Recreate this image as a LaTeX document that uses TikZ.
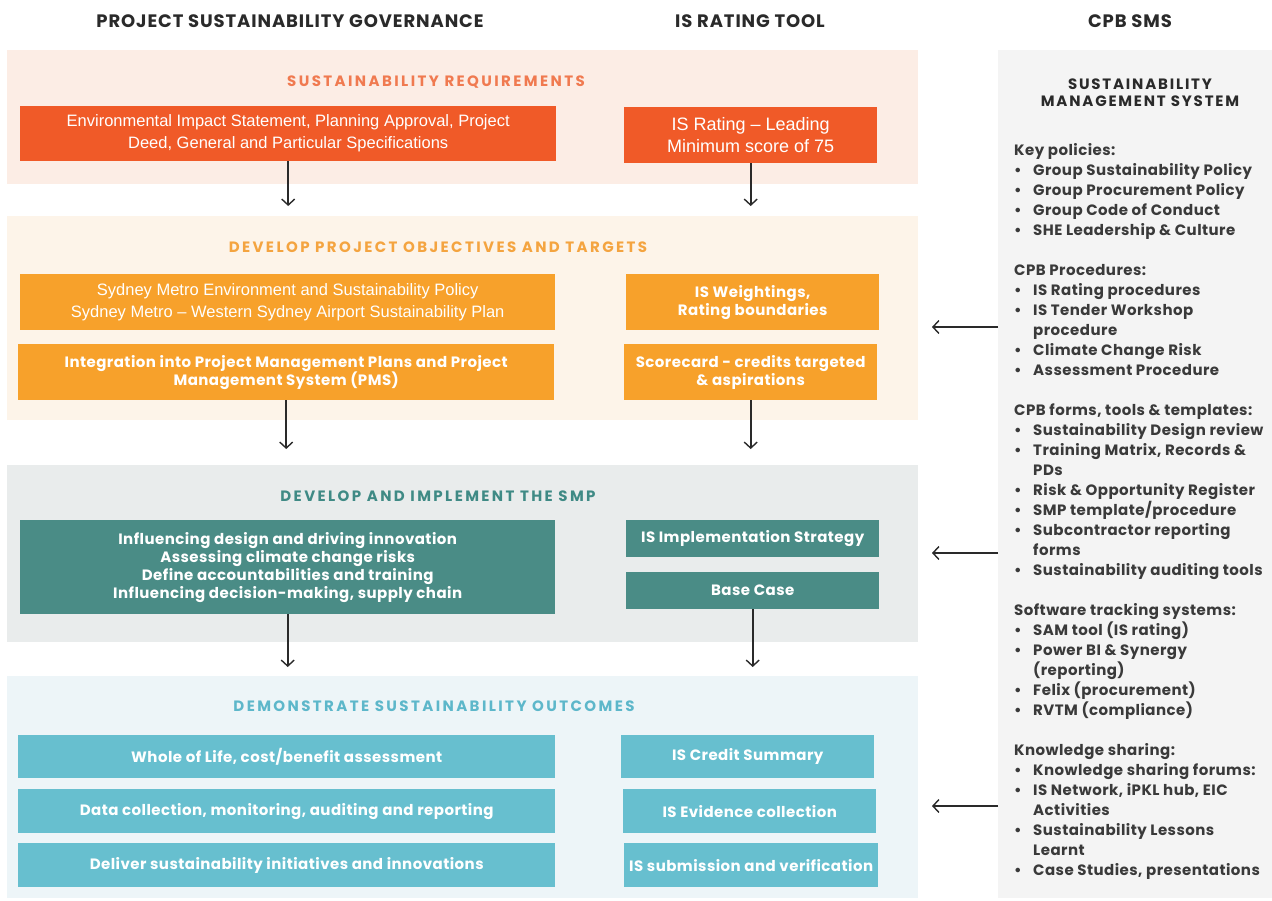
\documentclass[tikz,border=0pt]{standalone}
\usepackage{fontspec}
\setmainfont{Poppins}
\newfontfamily\arialf{Liberation Sans}
\newfontfamily\spaced{Poppins}[LetterSpace=16]
\newfontfamily\headf{Poppins}[LetterSpace=5]
\newfontfamily\boxf{Poppins}[LetterSpace=3]
\newfontfamily\smst{Poppins}[LetterSpace=12]
\usetikzlibrary{arrows.meta}
\definecolor{bandA}{HTML}{FCEDE5}
\definecolor{bandB}{HTML}{FDF4E9}
\definecolor{bandC}{HTML}{E9ECEC}
\definecolor{bandD}{HTML}{EDF5F8}
\definecolor{panelc}{HTML}{F4F4F4}
\definecolor{redbox}{HTML}{F05A28}
\definecolor{orgbox}{HTML}{F7A12B}
\definecolor{tealbox}{HTML}{4A8C86}
\definecolor{cyanbox}{HTML}{67BFCF}
\definecolor{tA}{HTML}{F07A50}
\definecolor{tB}{HTML}{F4A440}
\definecolor{tC}{HTML}{3F8A85}
\definecolor{tD}{HTML}{5DB7CA}
\definecolor{ink}{HTML}{2A2A2A}
\definecolor{listc}{HTML}{3A3A3A}
\tikzset{
  band/.style={draw=none, anchor=north west, inner sep=0pt, minimum width=911pt},
  box/.style={draw=none, anchor=north west, inner sep=0pt, text=white, align=center},
  sbox/.style={box, font=\boxf\fontsize{15}{18}\selectfont\bfseries},
  abox/.style={box, font=\arialf\fontsize{16.5}{22}\selectfont},
  btitle/.style={font=\spaced\fontsize{15}{16}\selectfont\bfseries, inner sep=0pt},
  colhead/.style={font=\headf\fontsize{18}{20}\selectfont\bfseries, text=ink, inner sep=0pt},
  arr/.style={draw=ink, line width=1.6pt, -{Straight Barb[length=6pt, width=13pt, line width=1.4pt]}},
}
\begin{document}
\begin{tikzpicture}[x=1pt, y=-1pt]
\useasboundingbox[fill=white] (0,0) rectangle (1272,900);

% column headings
\node[colhead] (h1) at (290,21) {PROJECT SUSTAINABILITY GOVERNANCE};
\node[colhead] (h2) at (750,21) {IS RATING TOOL};
\node[colhead] (h3) at (1130,21) {CPB SMS};

% bands
\node[band, fill=bandA, minimum height=134pt] (b1) at (7,50) {};
\node[band, fill=bandB, minimum height=204pt] (b2) at (7,216) {};
\node[band, fill=bandC, minimum height=177pt] (b3) at (7,465) {};
\node[band, fill=bandD, minimum height=222pt] (b4) at (7,676) {};

% right panel
\node[draw=none, fill=panelc, anchor=north west, inner sep=0pt, minimum width=274pt, minimum height=848pt] (sms) at (998,50) {};

% band titles
\node[btitle, text=tA] (t1) at (436,82) {SUSTAINABILITY REQUIREMENTS};
\node[btitle, text=tB] (t2) at (438,247) {DEVELOP PROJECT OBJECTIVES AND TARGETS};
\node[btitle, text=tC] (t3) at (438,496) {DEVELOP AND IMPLEMENT THE SMP};
\node[btitle, text=tD] (t4) at (434,706) {DEMONSTRATE SUSTAINABILITY OUTCOMES};

% band 1 boxes
\node[abox, fill=redbox, minimum width=536pt, minimum height=55pt] (r1) at (20,106)
  {Environmental Impact Statement, Planning Approval, Project\\Deed, General and Particular Specifications};
\node[abox, fill=redbox, minimum width=253pt, minimum height=56pt, font=\arialf\fontsize{18}{22}\selectfont] (r2) at (624,107)
  {IS Rating – Leading\\Minimum score of 75};

% band 2 boxes
\node[abox, fill=orgbox, minimum width=535pt, minimum height=56pt] (o1) at (20,274)
  {Sydney Metro Environment and Sustainability Policy\\Sydney Metro – Western Sydney Airport Sustainability Plan};
\node[sbox, fill=orgbox, minimum width=536pt, minimum height=56pt] (o2) at (18,344)
  {Integration into Project Management Plans and Project\\Management System (PMS)};
\node[sbox, fill=orgbox, minimum width=253pt, minimum height=56pt] (o3) at (626,274)
  {IS Weightings,\\Rating boundaries};
\node[sbox, fill=orgbox, minimum width=253pt, minimum height=56pt] (o4) at (624,344)
  {Scorecard - credits targeted\\\& aspirations};

% band 3 boxes
\node[sbox, fill=tealbox, minimum width=535pt, minimum height=94pt] (s1) at (20,520)
  {Influencing design and driving innovation\\Assessing climate change risks\\Define accountabilities and training\\Influencing decision-making, supply chain};
\node[sbox, fill=tealbox, minimum width=253pt, minimum height=37pt] (s2) at (626,520)
  {IS Implementation Strategy};
\node[sbox, fill=tealbox, minimum width=253pt, minimum height=37pt] (s3) at (626,572)
  {Base Case};

% band 4 boxes
\node[sbox, fill=cyanbox, minimum width=537pt, minimum height=43pt] (d1) at (18,735)
  {Whole of Life, cost/benefit assessment};
\node[sbox, fill=cyanbox, minimum width=537pt, minimum height=44pt] (d2) at (18,789)
  {Data collection, monitoring, auditing and reporting};
\node[sbox, fill=cyanbox, minimum width=537pt, minimum height=44pt] (d3) at (18,843)
  {Deliver sustainability initiatives and innovations};
\node[sbox, fill=cyanbox, minimum width=253pt, minimum height=43pt] (d4) at (621,735)
  {IS Credit Summary};
\node[sbox, fill=cyanbox, minimum width=253pt, minimum height=44pt] (d5) at (623,789)
  {IS Evidence collection};
\node[sbox, fill=cyanbox, minimum width=254pt, minimum height=44pt] (d6) at (624,843)
  {IS submission and verification};

% SMS panel text
\node[font=\smst\fontsize{15}{17}\selectfont\bfseries, text=ink, align=center, inner sep=0pt] (smsti) at (1140,93)
  {SUSTAINABILITY\\MANAGEMENT SYSTEM};
\newcommand{\bl}{\makebox[19pt][l]{\textbullet}}
\newcommand{\ind}{\hspace*{19pt}}
\node[anchor=north west, align=left, inner sep=0pt, text=listc, font=\boxf\fontsize{15}{20}\selectfont\bfseries] (list) at (1014,143)
  {Key policies:\\
   \bl Group Sustainability Policy\\
   \bl Group Procurement Policy\\
   \bl Group Code of Conduct\\
   \bl SHE Leadership \& Culture\\[20pt]
   CPB Procedures:\\
   \bl IS Rating procedures\\
   \bl IS Tender Workshop\\
   \ind procedure\\
   \bl Climate Change Risk\\
   \bl Assessment Procedure\\[20pt]
   CPB forms, tools \& templates:\\
   \bl Sustainability Design review\\
   \bl Training Matrix, Records \&\\
   \ind PDs\\
   \bl Risk \& Opportunity Register\\
   \bl SMP template/procedure\\
   \bl Subcontractor reporting\\
   \ind forms\\
   \bl Sustainability auditing tools\\[20pt]
   Software tracking systems:\\
   \bl SAM tool (IS rating)\\
   \bl Power BI \& Synergy\\
   \ind (reporting)\\
   \bl Felix (procurement)\\
   \bl RVTM (compliance)\\[20pt]
   Knowledge sharing:\\
   \bl Knowledge sharing forums:\\
   \bl IS Network, iPKL hub, EIC\\
   \ind Activities\\
   \bl Sustainability Lessons\\
   \ind Learnt\\
   \bl Case Studies, presentations};

% vertical arrows
\draw[arr, shorten >=10pt] (r1.south) -- (r1.south |- b2.north);
\draw[arr, shorten >=10pt] (r2.south) -- (r2.south |- b2.north);
\draw[arr, shorten >=16pt] (o2.south) -- (o2.south |- b3.north);
\draw[arr, shorten >=16pt] (o4.south) -- (o4.south |- b3.north);
\draw[arr, shorten >=9pt] (s1.south) -- (s1.south |- b4.north);
\draw[arr, shorten >=9pt] (s3.south) -- (s3.south |- b4.north);

% horizontal arrows from SMS
\coordinate (a1) at (932,327);
\coordinate (a2) at (932,553);
\coordinate (a3) at (932,806);
\draw[arr] (sms.west |- a1) -- (a1);
\draw[arr] (sms.west |- a2) -- (a2);
\draw[arr] (sms.west |- a3) -- (a3);
\end{tikzpicture}
\end{document}
